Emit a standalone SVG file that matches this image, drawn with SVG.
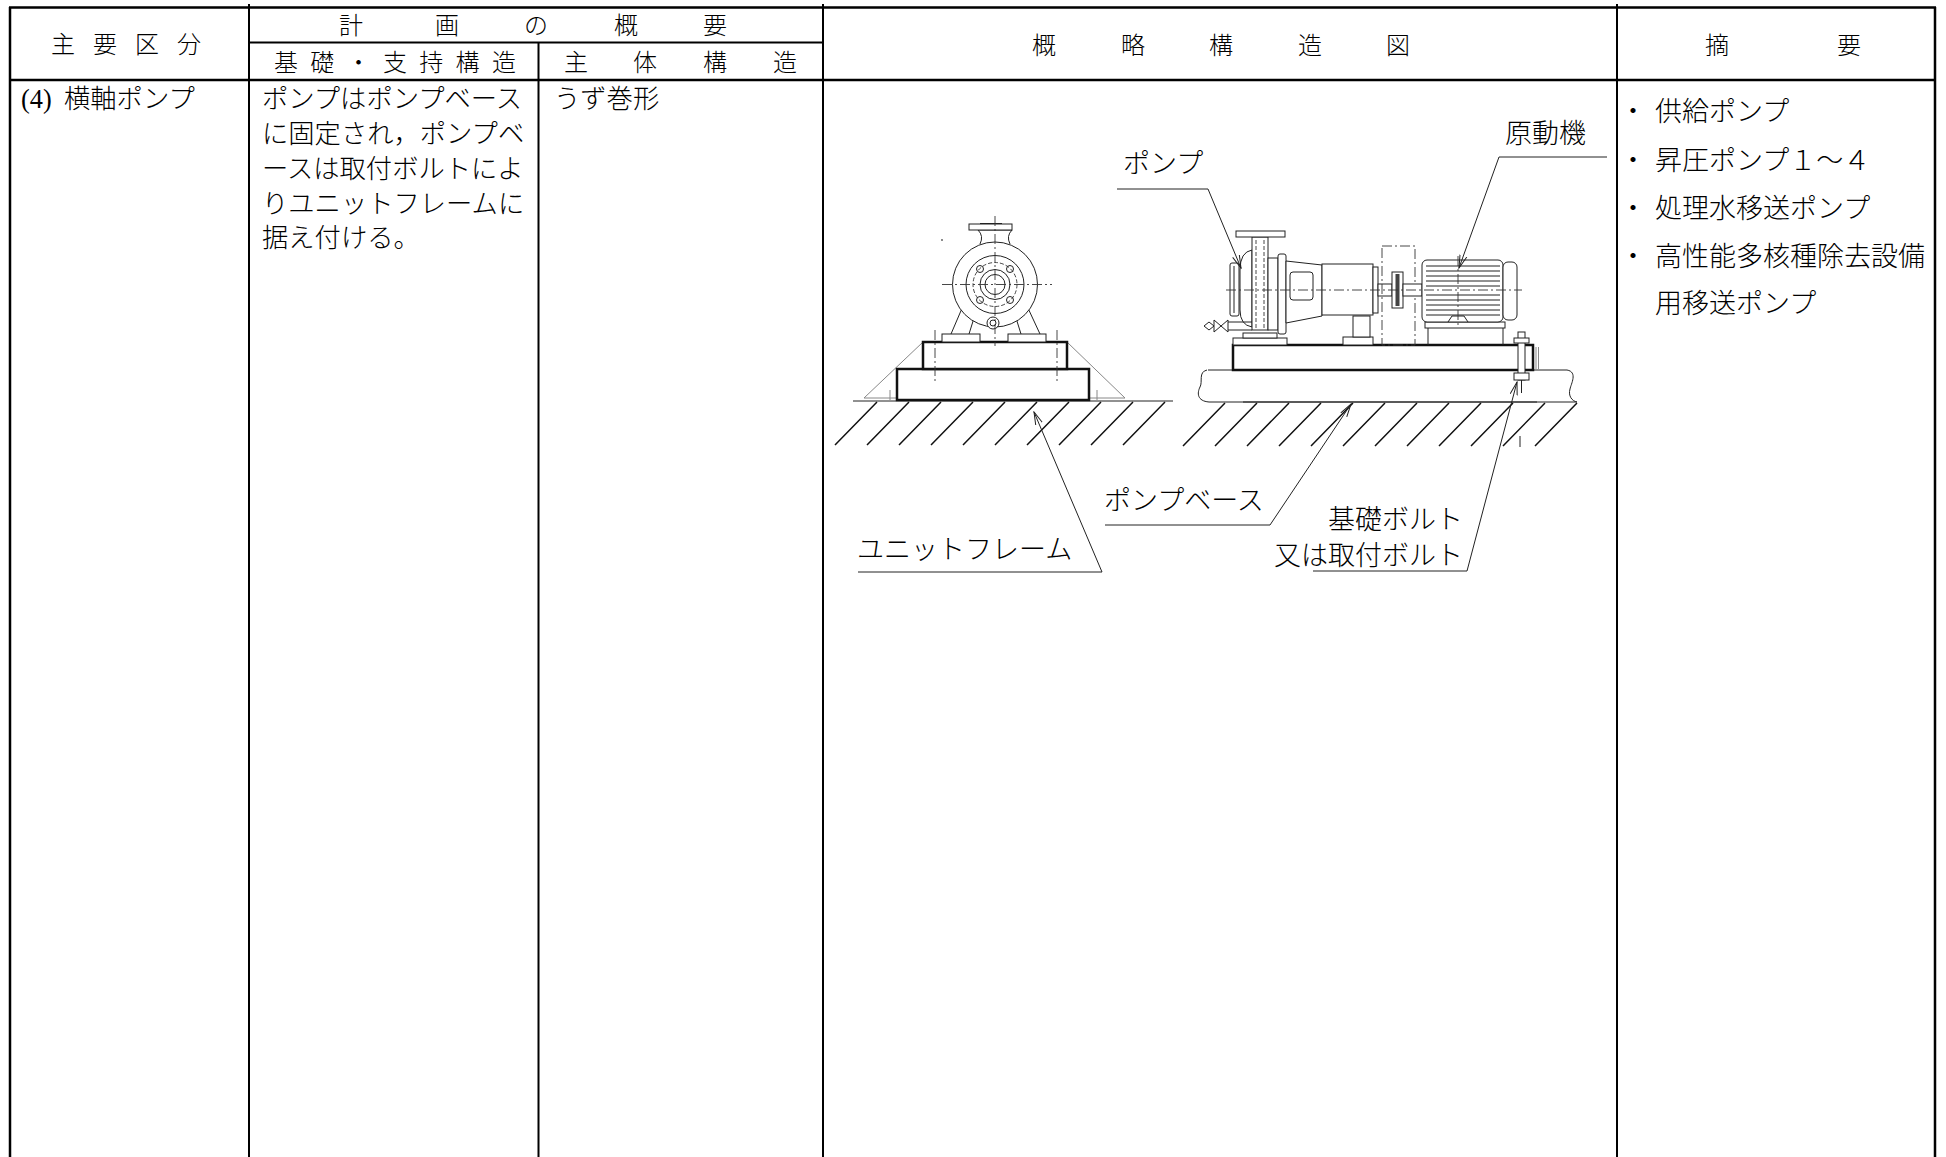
<svg xmlns="http://www.w3.org/2000/svg" width="1946" height="1157" viewBox="0 0 1946 1157">
<style>
.t{font-family:"Liberation Serif","Noto Sans CJK JP",serif;fill:#000;font-weight:300}
.h{font-size:24px}
.b{font-size:26.3px}
.r{font-size:27px}
.tb{stroke:#000;fill:none}
.fig{stroke:#222;stroke-width:1;fill:none}
.fw{stroke:#222;stroke-width:1;fill:#fff}
.thick{stroke:#111;stroke-width:2.5;fill:#fff}
.hat{stroke:#111;stroke-width:1.5;fill:none}
.cl{stroke:#333;stroke-width:0.9;fill:none;stroke-dasharray:10 3 2 3}
.dash{stroke:#333;stroke-width:0.9;fill:none;stroke-dasharray:4 2}
.grey{stroke:#888;stroke-width:1;fill:none}
.ld{stroke:#222;stroke-width:1;fill:none}
</style>
<defs>
<marker id="arr" markerUnits="userSpaceOnUse" viewBox="0 -5 14 10" refX="13" refY="0" markerWidth="14" markerHeight="10" orient="auto">
<path d="M0,-3.6 L13,0 L0,3.6" fill="none" stroke="#222" stroke-width="1"/>
</marker>
</defs>
<rect width="1946" height="1157" fill="#fff"/>

<g id="table">
<path class="tb" stroke-width="2.5" d="M9,7.5 H1936 M9,80 H1936 M10,7 V1157 M1935,7 V1157"/>
<path class="tb" stroke-width="1.8" d="M249,42.5 H823"/>
<path class="tb" stroke-width="2" d="M249,4 V1157 M538.5,42.5 V1157 M823,4 V1157 M1617,4 V1157"/>
</g>

<g id="header">
<text class="t h" text-anchor="middle" x="63 105 147 189" y="53">主要区分</text>
<text class="t h" text-anchor="middle" x="351 447 536 626 715" y="34">計画の概要</text>
<text class="t h" text-anchor="middle" x="286 322.3 358.6 395 431.3 467.6 504" y="71">基礎・支持構造</text>
<text class="t h" text-anchor="middle" x="576 645 715 785" y="71">主体構造</text>
<text class="t h" text-anchor="middle" x="1044 1133 1221 1310 1398" y="54">概略構造図</text>
<text class="t h" text-anchor="middle" x="1717 1849" y="54">摘要</text>
</g>

<g id="row-body">
<text class="t b" y="108"><tspan x="21">(4)</tspan><tspan x="64">横軸ポンプ</tspan></text>
<text class="t b" x="262" y="108">ポンプはポンプベース</text>
<text class="t b" x="262" y="143">に固定され，ポンプベ</text>
<text class="t b" x="262" y="178">ースは取付ボルトによ</text>
<text class="t b" x="262" y="212.5">りユニットフレームに</text>
<text class="t b" x="262" y="247">据え付ける。</text>
<text class="t b" x="554" y="108">うず巻形</text>
</g>

<g id="remarks">
<text class="t r" text-anchor="middle" x="1633" y="121">・</text>
<text class="t r" x="1655" y="121">供給ポンプ</text>
<text class="t r" text-anchor="middle" x="1633" y="170">・</text>
<text class="t r" x="1655" y="170">昇圧ポンプ１～４</text>
<text class="t r" text-anchor="middle" x="1633" y="218">・</text>
<text class="t r" x="1655" y="218">処理水移送ポンプ</text>
<text class="t r" text-anchor="middle" x="1633" y="266">・</text>
<text class="t r" x="1655" y="266">高性能多核種除去設備</text>
<text class="t r" x="1655" y="313">用移送ポンプ</text>
</g>

<g id="ground">
<path class="fig" stroke-width="1.8" d="M853,401 H1173"/>
<path class="hat" d="M877,402 L835,445 M909,402 L867,445 M941,402 L899,445 M973,402 L931,445 M1005,402 L963,445 M1037,402 L995,445 M1069,402 L1027,445 M1101,402 L1059,445 M1133,402 L1091,445 M1165,402 L1123,445"/>
<path class="hat" d="M1225,403 L1183,446 M1257,403 L1215,446 M1289,403 L1247,446 M1321,403 L1279,446 M1353,403 L1311,446 M1385,403 L1343,446 M1417,403 L1375,446 M1449,403 L1407,446 M1481,403 L1439,446 M1513,403 L1471,446 M1545,403 L1503,446 M1577,403 L1535,446"/>
<path class="fig" d="M1520,436 V447"/>
</g>

<g id="front-view">
<path class="grey" d="M923,342 L864,398 H897 M1067,342 L1125,398 H1089 M890,390 V400 M1097,390 V400"/>
<rect class="thick" x="897" y="369" width="192" height="31" stroke-width="2"/>
<rect class="thick" x="923" y="342" width="144" height="27" stroke-width="2"/>
<path class="cl" stroke-width="1.8" stroke-dasharray="8 4 2 4" d="M935,330 V382 M1057,330 V382"/>
<rect class="fw" x="942" y="334" width="38" height="8"/>
<rect class="fw" x="1008" y="334" width="38" height="8"/>
<path class="fig" d="M963,306 L951,334 M974,318 L969,334 M1027,306 L1040,334 M1016,318 L1021,334"/>
<path class="fw" d="M980,244 Q984,236 978,230 H1012 Q1006,236 1010,244"/>
<circle class="fw" cx="995" cy="284.5" r="42.5"/>
<rect class="fw" x="969" y="224" width="43" height="6"/>
<path class="fig" d="M980,223.5 H1002"/>
<circle class="fig" cx="995" cy="284.5" r="29"/>
<circle class="dash" cx="995" cy="284.5" r="22"/>
<circle class="fig" cx="995" cy="284.5" r="15"/>
<circle class="fig" cx="995" cy="284.5" r="10"/>
<circle class="fig" cx="980" cy="269" r="3.5"/>
<circle class="fig" cx="1010" cy="269" r="3.5"/>
<circle class="fig" cx="980" cy="300" r="3.5"/>
<circle class="fig" cx="1010" cy="300" r="3.5"/>
<circle class="fw" cx="993" cy="323" r="6"/>
<circle class="fig" cx="993" cy="323" r="3"/>
<path class="cl" d="M942,284.5 H1052 M995,216 V346"/>
<circle cx="942" cy="240" r="0.9" fill="#555"/>
</g>

<g id="side-view">
<path class="fig" stroke-width="1.2" d="M1207,370 C1198,372 1203,382 1200,387 C1197,393 1197,401 1209,402 M1208,370 H1567 C1578,372 1571,384 1570,389 C1568,396 1572,401 1577,402"/>
<path class="fig" stroke-width="1.5" d="M1209,402 H1577"/>
<path class="fig" stroke-width="2.5" d="M1243,402 H1537"/>
<path class="grey" d="M1536,347 V369 M1538.5,347 V369"/>
<rect class="thick" x="1233" y="345" width="300" height="25"/>
<rect class="fw" x="1233" y="338" width="54" height="7"/>
<rect class="fw" x="1243" y="333" width="34" height="5"/>
<rect class="fw" x="1343" y="337" width="30" height="8"/>
<rect class="fw" x="1353" y="316" width="17" height="21"/>
<path class="fig" d="M1428,328 V345 M1503,328 V345"/>
<rect class="fw" x="1425" y="322" width="80" height="6"/>
<path class="fw" d="M1252,250 Q1240,252 1240,270 V310 Q1240,325 1252,327 Z"/>
<rect class="fw" x="1230" y="263" width="9" height="53" rx="2"/>
<path class="fig" d="M1234,266 V313"/>
<rect class="fw" x="1252" y="237" width="16" height="93"/>
<path class="dash" d="M1256,240 V328 M1264,240 V328"/>
<rect class="fw" x="1236" y="231" width="49" height="6"/>
<rect class="fw" x="1268" y="258" width="10" height="72"/>
<rect class="fw" x="1278" y="254" width="8" height="80" rx="2"/>
<path class="fig" d="M1228,322 H1252 M1228,330 H1252"/>
<path class="fig" d="M1214,320 L1228,332 V320 L1214,332 Z M1214,326 L1209,322 L1204,326 L1209,330 Z"/>
<path class="fw" d="M1286,261 L1322,265 V316 L1286,323 Z"/>
<rect class="fig" x="1290" y="272" width="23" height="28" rx="3"/>
<rect class="fw" x="1322" y="264" width="51" height="51"/>
<rect class="fw" x="1373" y="267" width="5" height="46"/>
<rect class="fw" x="1378" y="284" width="14" height="12"/>
<rect class="cl" x="1382" y="246" width="33" height="99"/>
<rect class="fw" x="1392" y="272" width="11" height="36"/>
<rect x="1395.5" y="274" width="4" height="32" fill="#444"/>
<rect class="fw" x="1403" y="284" width="19" height="12"/>
<rect class="fw" x="1422" y="260" width="81" height="62" rx="5"/>
<rect class="fw" x="1503" y="262" width="14" height="58" rx="5"/>
<path class="fig" stroke-width="0.8" d="M1426,266 H1500 M1426,271 H1500 M1426,276 H1500 M1426,281 H1500 M1426,286 H1500 M1426,295 H1500 M1426,300 H1500 M1426,305 H1500 M1426,310 H1500 M1426,315 H1500"/>
<path class="fig" d="M1448,322 L1452,316 H1464 L1468,322"/>
<path class="cl" d="M1458,256 V326"/>
<path class="cl" d="M1226,290 H1522"/>
<rect class="fw" x="1518" y="332" width="7" height="48" stroke-width="1.4"/>
<rect class="fw" x="1514" y="338" width="15" height="5" stroke-width="1.4"/>
<rect class="fw" x="1514" y="373" width="15" height="7" stroke-width="1.4"/>
<path class="fig" stroke-width="1.6" d="M1521.5,380 V393"/>
</g>

<g id="connectors">
<path class="ld" marker-end="url(#arr)" d="M1117,189 H1208 L1241,268"/>
<path class="ld" marker-end="url(#arr)" d="M1607,157 H1499 L1459,268"/>
<path class="ld" marker-end="url(#arr)" d="M1105,525 H1270 L1351,404"/>
<path class="ld" marker-end="url(#arr)" d="M858,572 H1102 L1034,412"/>
<path class="ld" marker-end="url(#arr)" d="M1313,571 H1467 L1517,382"/>
</g>

<g id="labels">
<text class="t r" x="1123" y="173">ポンプ</text>
<text class="t r" x="1505" y="143">原動機</text>
<text class="t r" x="1104" y="510">ポンプベース</text>
<text class="t r" x="857" y="559">ユニットフレーム</text>
<text class="t r" text-anchor="end" x="1463" y="529">基礎ボルト</text>
<text class="t r" text-anchor="end" x="1463" y="565">又は取付ボルト</text>
</g>
</svg>
